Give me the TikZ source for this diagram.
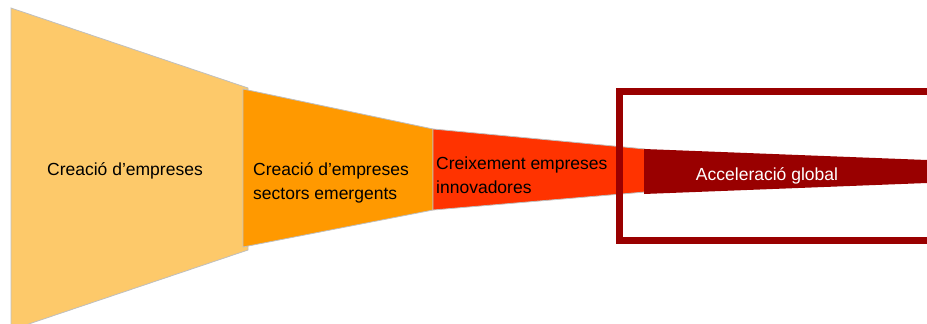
\documentclass[tikz,border=0pt]{standalone}
\usepackage{fontspec}
\setmainfont{Liberation Sans}
\usetikzlibrary{positioning}
\definecolor{stageone}{HTML}{FDC96A}
\definecolor{stagetwo}{HTML}{FF9900}
\definecolor{stagethree}{HTML}{FF3300}
\definecolor{stagefour}{HTML}{990000}
\tikzstyle{stage}=[draw=black!25, line width=0.8pt]
\tikzstyle{stagelabel}=[font=\fontsize{17.5}{24}\selectfont, inner sep=0pt, align=left]
\tikzstyle{frame}=[draw=stagefour, line width=7pt]

\begin{document}
\begin{tikzpicture}[x=1pt, y=-1pt]

    \useasboundingbox (0,0) rectangle (927,324);
    \clip (0,0) rectangle (927,324);

    % funnel stages
    \foreach \xa/\ta/\ba/\xb/\tb/\bb/\col in {11/8/330/248/88/250/stageone, 243/89/247/433/129/210/stagetwo, 433/129/210/645/149/192/stagethree}
        \filldraw[stage, fill=\col] (\xa,\ta) -- (\xb,\tb) -- (\xb,\bb) -- (\xa,\ba) -- cycle;

    \fill[stagefour] (644,149) -- (927,160) -- (927,183) -- (644,194) -- cycle;

    % highlight frame
    \draw[frame] (619.5,91) rectangle (945,240);

    \node[stagelabel] (create) at (125,171) {Creació d’empreses};
    \node[stagelabel, anchor=west] (emerging) at (253,183) {Creació d’empreses\\sectors emergents};
    \node[stagelabel, anchor=west] (growth) at (436,175) {Creixement empreses\\innovadores};
    \node[stagelabel, white] (global) at (767,176) {Acceleració global};

\end{tikzpicture}
\end{document}
